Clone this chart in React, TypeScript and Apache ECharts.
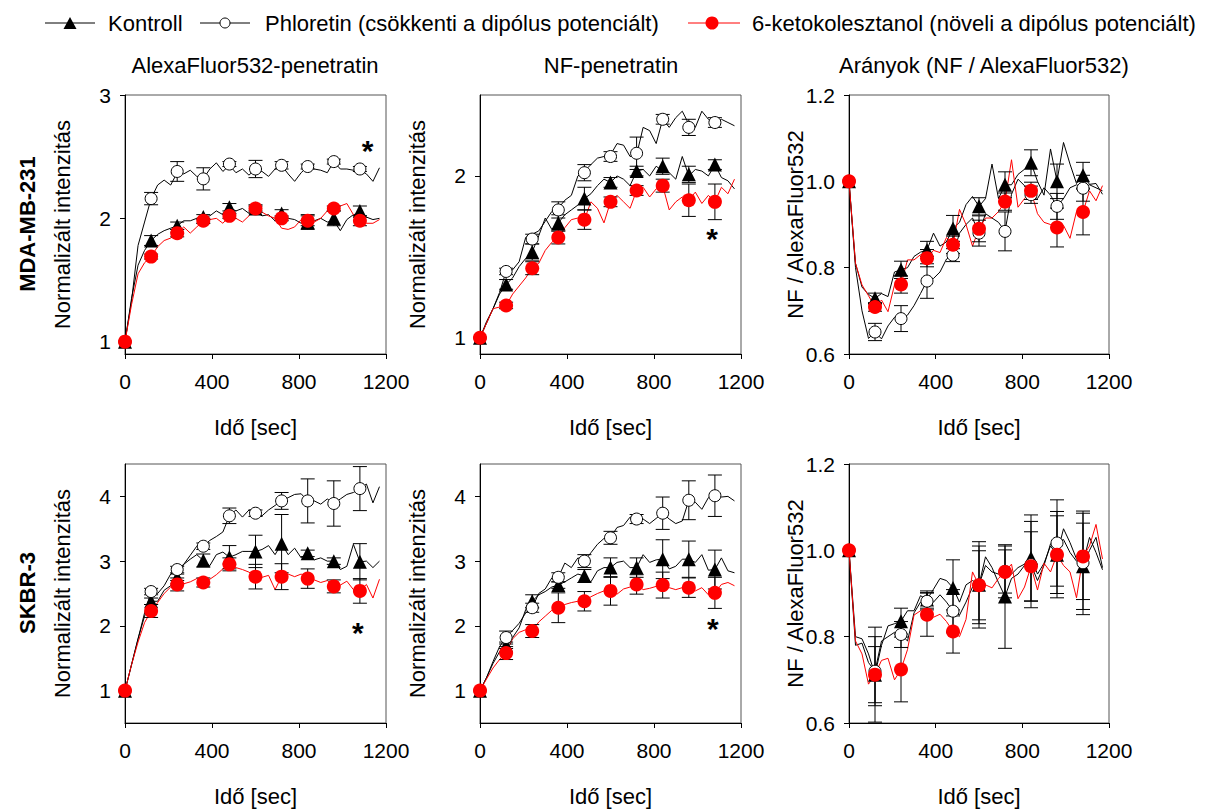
import React, { useEffect, useRef } from "react";
import * as echarts from "echarts";

const FONT = '"Liberation Sans", Arial, Helvetica, sans-serif';

// time grids (s)
const LINE_T = [0, 30, 60, 90, 120, 150, 180, 210, 240, 270, 300, 330, 360, 390, 420, 450, 480, 510, 540, 570, 600, 630, 660, 690, 720, 750, 780, 810, 840, 870, 900, 930, 960, 990, 1020, 1050, 1080, 1110, 1140, 1170];
const MARK_T = [0, 120, 240, 360, 480, 600, 720, 840, 960, 1080];
const X_TICKS = [0, 400, 800, 1200];

// ---------- MDA-MB-231, AlexaFluor532-penetratin ----------
const a1KLine = [1.00, 1.35, 1.62, 1.74, 1.82, 1.87, 1.90, 1.92, 1.94, 1.98, 1.98, 2.00, 2.01, 2.02, 2.06, 2.03, 2.09, 2.06, 2.08, 2.04, 2.06, 2.02, 2.03, 1.98, 2.04, 2.00, 1.99, 1.96, 1.97, 1.98, 2.00, 1.97, 1.98, 1.90, 1.99, 2.03, 2.04, 2.01, 1.99, 2.00];
const a1PLine = [1.00, 1.33, 1.78, 1.97, 2.16, 2.27, 2.31, 2.27, 2.37, 2.36, 2.39, 2.34, 2.32, 2.40, 2.45, 2.38, 2.43, 2.37, 2.40, 2.35, 2.40, 2.38, 2.34, 2.40, 2.43, 2.36, 2.30, 2.37, 2.42, 2.40, 2.39, 2.37, 2.46, 2.40, 2.40, 2.39, 2.39, 2.36, 2.30, 2.41];
const a1RLine = [1.00, 1.30, 1.55, 1.64, 1.69, 1.77, 1.82, 1.84, 1.88, 1.93, 1.88, 1.93, 1.98, 1.99, 2.00, 1.96, 2.02, 2.00, 1.97, 2.02, 2.08, 2.05, 2.02, 2.00, 1.92, 1.91, 1.93, 1.99, 1.98, 1.97, 2.00, 2.06, 2.08, 2.10, 2.12, 2.03, 1.98, 1.96, 1.96, 1.99];
const a1KMark = [1, 1.82, 1.94, 2.01, 2.09, 2.08, 2.04, 1.97, 2.00, 2.06];
const a1KErr = [0, 0.04, 0.03, 0.02, 0.03, 0.02, 0.03, 0.06, 0.06, 0.04];
const a1PMark = [1, 2.16, 2.38, 2.32, 2.44, 2.40, 2.43, 2.42, 2.46, 2.40];
const a1PErr = [0, 0.05, 0.08, 0.09, 0.02, 0.07, 0.03, 0.02, 0.02, 0.02];
const a1RMark = [1, 1.69, 1.88, 1.98, 2.02, 2.08, 2.00, 1.98, 2.08, 1.98];
const a1RErr = [0, 0.02, 0.03, 0.02, 0.02, 0.03, 0.02, 0.04, 0.02, 0.04];
const a1Star = [[1115, 2.6]];
const a1YTicks = [1, 2, 3];

// ---------- MDA-MB-231, NF-penetratin ----------
const n1KLine = [1.00, 1.10, 1.18, 1.27, 1.33, 1.37, 1.44, 1.49, 1.53, 1.63, 1.74, 1.67, 1.71, 1.76, 1.79, 1.82, 1.86, 1.89, 1.94, 1.98, 1.96, 2.00, 1.98, 1.94, 2.03, 2.04, 2.00, 2.06, 2.03, 2.02, 1.98, 2.12, 2.00, 2.04, 2.03, 2.00, 2.07, 1.99, 1.97, 1.92];
const n1PLine = [1.00, 1.09, 1.18, 1.28, 1.41, 1.42, 1.47, 1.62, 1.64, 1.66, 1.72, 1.78, 1.80, 1.85, 1.88, 2.00, 2.03, 2.07, 2.11, 2.12, 2.13, 2.20, 2.19, 2.12, 2.13, 2.30, 2.28, 2.20, 2.35, 2.30, 2.36, 2.40, 2.32, 2.30, 2.40, 2.35, 2.33, 2.35, 2.33, 2.31];
const n1RLine = [1.00, 1.09, 1.18, 1.19, 1.20, 1.27, 1.32, 1.37, 1.43, 1.46, 1.54, 1.59, 1.62, 1.68, 1.73, 1.74, 1.73, 1.84, 1.80, 1.71, 1.84, 1.88, 1.84, 1.80, 1.91, 1.93, 1.87, 1.92, 1.94, 1.79, 1.84, 1.87, 1.85, 1.90, 1.83, 1.88, 1.84, 1.93, 1.89, 1.98];
const n1KMark = [1, 1.33, 1.53, 1.71, 1.86, 1.96, 2.03, 2.06, 2.01, 2.07];
const n1KErr = [0, 0.03, 0.05, 0.05, 0.07, 0.03, 0.03, 0.05, 0.05, 0.03];
const n1PMark = [1, 1.41, 1.61, 1.79, 2.02, 2.12, 2.14, 2.35, 2.30, 2.33];
const n1PErr = [0, 0.02, 0.03, 0.05, 0.05, 0.03, 0.10, 0.03, 0.05, 0.03];
const n1RMark = [1, 1.20, 1.43, 1.62, 1.73, 1.84, 1.91, 1.94, 1.85, 1.84];
const n1RErr = [0, 0.02, 0.04, 0.04, 0.06, 0.03, 0.03, 0.04, 0.10, 0.11];
const n1Star = [[1067, 1.65]];
const n1YTicks = [1, 2];

// ---------- MDA-MB-231, ratio ----------
const r1KLine = [1.000, 0.810, 0.755, 0.738, 0.729, 0.740, 0.733, 0.790, 0.795, 0.800, 0.826, 0.836, 0.841, 0.880, 0.850, 0.860, 0.891, 0.905, 0.946, 0.965, 0.942, 0.960, 1.040, 0.960, 0.992, 0.992, 1.016, 1.028, 1.043, 1.000, 0.968, 1.075, 1.000, 1.090, 1.040, 0.995, 1.014, 0.993, 0.995, 0.970];
const r1PLine = [1.000, 0.800, 0.700, 0.636, 0.651, 0.635, 0.665, 0.685, 0.682, 0.690, 0.712, 0.740, 0.769, 0.775, 0.790, 0.820, 0.829, 0.880, 0.900, 0.915, 0.880, 0.925, 0.915, 0.905, 0.884, 0.970, 1.005, 0.990, 0.969, 0.960, 0.985, 0.968, 0.942, 0.960, 0.985, 0.992, 0.984, 0.992, 0.985, 0.978];
const r1RLine = [1.000, 0.810, 0.760, 0.735, 0.709, 0.725, 0.698, 0.760, 0.761, 0.818, 0.818, 0.830, 0.822, 0.840, 0.835, 0.870, 0.853, 0.935, 0.900, 0.850, 0.890, 0.915, 0.915, 0.930, 0.953, 1.050, 0.940, 0.960, 0.978, 0.925, 0.905, 0.900, 0.893, 0.898, 0.868, 0.930, 0.929, 0.978, 0.955, 0.990];
const r1KMark = [1, 0.729, 0.795, 0.841, 0.891, 0.942, 0.992, 1.043, 1.000, 1.014];
const r1KErr = [0, 0.012, 0.02, 0.02, 0.03, 0.02, 0.03, 0.03, 0.04, 0.03];
const r1PMark = [1, 0.651, 0.682, 0.769, 0.829, 0.880, 0.884, 0.969, 0.942, 0.984];
const r1PErr = [0, 0.02, 0.03, 0.04, 0.015, 0.03, 0.045, 0.02, 0.03, 0.03];
const r1RMark = [1, 0.709, 0.761, 0.822, 0.853, 0.890, 0.953, 0.978, 0.893, 0.929];
const r1RErr = [0, 0.01, 0.02, 0.02, 0.02, 0.03, 0.02, 0.02, 0.045, 0.053];

// ---------- SKBR-3, AlexaFluor532-penetratin ----------
const a2KLine = [1.00, 1.40, 1.80, 2.15, 2.38, 2.38, 2.55, 2.62, 2.75, 2.95, 3.03, 3.10, 3.01, 2.93, 3.10, 3.14, 3.06, 3.10, 3.15, 3.15, 3.15, 3.18, 3.24, 3.10, 3.27, 3.10, 3.20, 3.05, 3.12, 3.02, 3.05, 3.00, 3.00, 2.87, 2.92, 3.26, 2.99, 3.00, 2.90, 3.00];
const a2PLine = [1.00, 1.40, 1.80, 2.20, 2.53, 2.50, 2.62, 2.80, 2.87, 2.95, 3.09, 3.23, 3.23, 3.32, 3.38, 3.45, 3.70, 3.79, 3.68, 3.79, 3.74, 3.70, 3.79, 3.86, 3.93, 3.98, 4.03, 4.04, 3.93, 3.93, 3.88, 3.96, 3.89, 3.96, 4.03, 4.06, 4.12, 4.19, 3.90, 4.15];
const a2RLine = [1.00, 1.40, 1.75, 2.05, 2.23, 2.36, 2.50, 2.60, 2.64, 2.65, 2.68, 2.73, 2.67, 2.72, 2.79, 2.88, 2.95, 2.90, 2.87, 2.83, 2.76, 2.75, 2.78, 2.56, 2.76, 2.80, 2.76, 2.80, 2.73, 2.71, 2.67, 2.70, 2.61, 2.63, 2.69, 2.56, 2.54, 2.64, 2.43, 2.72];
const a2KMark = [1, 2.38, 2.75, 3.01, 3.06, 3.15, 3.27, 3.12, 3.00, 2.99];
const a2KErr = [0, 0.05, 0.05, 0.10, 0.18, 0.25, 0.45, 0.05, 0.05, 0.28];
const a2PMark = [1, 2.53, 2.87, 3.23, 3.70, 3.74, 3.93, 3.93, 3.89, 4.12];
const a2PErr = [0, 0.05, 0.05, 0.05, 0.12, 0.05, 0.13, 0.34, 0.35, 0.34];
const a2RMark = [1, 2.23, 2.64, 2.67, 2.95, 2.76, 2.76, 2.73, 2.61, 2.54];
const a2RErr = [0, 0.10, 0.10, 0.07, 0.10, 0.19, 0.20, 0.15, 0.10, 0.19];
const a2Star = [[1071, 1.99]];
const a2YTicks = [1, 2, 3, 4];

// ---------- SKBR-3, NF-penetratin ----------
const n2KLine = [1.00, 1.20, 1.42, 1.60, 1.70, 1.82, 1.97, 2.25, 2.38, 2.48, 2.53, 2.60, 2.63, 2.68, 2.74, 2.80, 2.77, 2.68, 2.85, 2.90, 2.90, 2.98, 3.00, 2.90, 2.90, 3.10, 2.98, 3.02, 3.03, 2.88, 2.92, 3.03, 3.03, 2.98, 3.10, 2.86, 2.87, 3.05, 2.85, 2.82];
const n2PLine = [1.00, 1.20, 1.45, 1.68, 1.82, 1.93, 2.04, 2.20, 2.28, 2.50, 2.57, 2.74, 2.75, 2.97, 2.90, 3.05, 3.00, 3.13, 3.26, 3.35, 3.36, 3.52, 3.55, 3.68, 3.65, 3.65, 3.58, 3.66, 3.74, 3.65, 3.58, 3.62, 3.94, 3.91, 3.80, 3.98, 4.01, 3.99, 4.00, 3.93];
const n2RLine = [1.00, 1.18, 1.35, 1.48, 1.58, 1.80, 1.90, 1.94, 1.92, 2.06, 2.15, 2.24, 2.28, 2.33, 2.36, 2.38, 2.38, 2.45, 2.50, 2.54, 2.54, 2.49, 2.57, 2.60, 2.64, 2.56, 2.58, 2.61, 2.63, 2.59, 2.56, 2.59, 2.59, 2.54, 2.59, 2.48, 2.51, 2.64, 2.67, 2.62];
const n2KMark = [1, 1.70, 2.38, 2.63, 2.77, 2.90, 2.90, 3.03, 3.03, 2.87];
const n2KErr = [0, 0.05, 0.10, 0.05, 0.10, 0.15, 0.15, 0.30, 0.28, 0.30];
const n2PMark = [1, 1.82, 2.28, 2.75, 3.00, 3.36, 3.65, 3.74, 3.94, 4.01];
const n2PErr = [0, 0.10, 0.07, 0.07, 0.10, 0.10, 0.07, 0.25, 0.30, 0.32];
const n2RMark = [1, 1.58, 1.92, 2.28, 2.38, 2.54, 2.64, 2.63, 2.59, 2.51];
const n2RErr = [0, 0.10, 0.10, 0.23, 0.15, 0.22, 0.15, 0.20, 0.15, 0.24];
const n2Star = [[1071, 2.05]];
const n2YTicks = [1, 2, 3, 4];

// ---------- SKBR-3, ratio ----------
const r2KLine = [1.000, 0.800, 0.795, 0.760, 0.712, 0.780, 0.825, 0.830, 0.836, 0.860, 0.860, 0.895, 0.886, 0.910, 0.935, 0.930, 0.913, 0.880, 0.920, 0.930, 0.920, 0.985, 0.960, 0.925, 0.893, 0.935, 0.945, 0.965, 0.982, 0.945, 0.970, 1.010, 0.990, 1.050, 1.018, 0.980, 0.963, 1.000, 1.030, 0.960];
const r2PLine = [1.000, 0.780, 0.785, 0.740, 0.720, 0.790, 0.800, 0.810, 0.805, 0.790, 0.855, 0.880, 0.882, 0.880, 0.897, 0.880, 0.859, 0.850, 0.880, 0.915, 0.920, 0.965, 0.950, 0.945, 0.951, 0.945, 0.960, 0.968, 0.967, 0.930, 0.965, 1.015, 1.017, 1.025, 0.995, 0.975, 0.971, 1.030, 0.995, 0.955];
const r2RLine = [1.000, 0.790, 0.760, 0.690, 0.712, 0.745, 0.750, 0.700, 0.724, 0.770, 0.850, 0.860, 0.851, 0.845, 0.852, 0.835, 0.812, 0.800, 0.840, 0.950, 0.919, 0.920, 0.913, 0.935, 0.950, 0.968, 0.888, 0.915, 0.963, 0.908, 0.970, 0.950, 0.990, 0.965, 0.950, 0.890, 0.986, 1.010, 1.060, 0.980];
const r2KMark = [1, 0.712, 0.836, 0.886, 0.913, 0.920, 0.893, 0.982, 0.990, 0.963];
const r2KErr = [0, 0.11, 0.03, 0.02, 0.065, 0.10, 0.12, 0.10, 0.10, 0.10];
const r2PMark = [1, 0.720, 0.805, 0.882, 0.859, 0.920, 0.951, 0.967, 1.017, 0.971];
const r2PErr = [0, 0.08, 0.03, 0.02, 0.05, 0.09, 0.05, 0.10, 0.10, 0.12];
const r2RMark = [1, 0.712, 0.724, 0.851, 0.812, 0.919, 0.950, 0.963, 0.990, 0.986];
const r2RErr = [0, 0.065, 0.075, 0.05, 0.05, 0.08, 0.06, 0.08, 0.09, 0.10];

const TITLES = ["AlexaFluor532-penetratin", "NF-penetratin", "Arányok (NF / AlexaFluor532)"];
const ROWS = ["MDA-MB-231", "SKBR-3"];
const LEGEND = ["Kontroll", "Phloretin (csökkenti a dipólus potenciált)", "6-ketokolesztanol (növeli a dipólus potenciált)"];

const PANELS = [
  { K: [a1KLine, a1KMark, a1KErr], P: [a1PLine, a1PMark, a1PErr], R: [a1RLine, a1RMark, a1RErr], star: a1Star, y: { min: 0.9, max: 3, ticks: a1YTicks }, ratio: false },
  { K: [n1KLine, n1KMark, n1KErr], P: [n1PLine, n1PMark, n1PErr], R: [n1RLine, n1RMark, n1RErr], star: n1Star, y: { min: 0.9, max: 2.5, ticks: n1YTicks }, ratio: false },
  { K: [r1KLine, r1KMark, r1KErr], P: [r1PLine, r1PMark, r1PErr], R: [r1RLine, r1RMark, r1RErr], star: [], y: { min: 0.6, max: 1.2 }, ratio: true },
  { K: [a2KLine, a2KMark, a2KErr], P: [a2PLine, a2PMark, a2PErr], R: [a2RLine, a2RMark, a2RErr], star: a2Star, y: { min: 0.5, max: 4.5, ticks: a2YTicks }, ratio: false },
  { K: [n2KLine, n2KMark, n2KErr], P: [n2PLine, n2PMark, n2PErr], R: [n2RLine, n2RMark, n2RErr], star: n2Star, y: { min: 0.5, max: 4.5, ticks: n2YTicks }, ratio: false },
  { K: [r2KLine, r2KMark, r2KErr], P: [r2PLine, r2PMark, r2PErr], R: [r2RLine, r2RMark, r2RErr], star: [], y: { min: 0.6, max: 1.2 }, ratio: true },
];

const COL_LEFT = [125, 480, 849];
const COL_W = [261, 261, 260];
const ROW_TOP = [95, 464];
const GRID_H = 259;

export default function App() {
  const ref = useRef<HTMLDivElement>(null);

  useEffect(() => {
    if (!ref.current) return;
    const chart = echarts.init(ref.current, undefined, { renderer: "svg" });

    const grids: any[] = [];
    const xAxes: any[] = [];
    const yAxes: any[] = [];
    const series: any[] = [];

    PANELS.forEach((p, i) => {
      const col = i % 3;
      const row = Math.floor(i / 3);
      grids.push({
        left: COL_LEFT[col], top: ROW_TOP[row], width: COL_W[col], height: GRID_H,
        show: true, borderColor: "#555", borderWidth: 1, backgroundColor: "transparent",
      });
      const axisCommon = {
        axisLine: { show: true, onZero: false, lineStyle: { color: "#000", width: 1 } },
        axisTick: { show: true, inside: false, length: 5, lineStyle: { color: "#000", width: 1 } },
        splitLine: { show: false },
        nameMoveOverlap: false,
      };
      xAxes.push({
        ...axisCommon,
        gridIndex: i, type: "value", min: 0, max: 1200, interval: 400,
        axisLabel: {
          color: "#000", fontSize: 21, fontFamily: FONT, margin: 17, customValues: X_TICKS,
          formatter: (v: number) => String(v),
        },
        name: "Idő [sec]", nameLocation: "middle", nameGap: 62,
        nameTextStyle: { color: "#000", fontSize: 22, fontFamily: FONT },
      });
      const yCfg: any = {
        ...axisCommon,
        gridIndex: i, type: "value", min: p.y.min, max: p.y.max,
        name: p.ratio ? "NF / AlexaFluor532" : "Normalizált intenzitás",
        nameLocation: "middle", nameRotate: 90, nameGap: p.ratio ? 43 : 52,
        nameTextStyle: { color: "#000", fontSize: 22, fontFamily: FONT },
        axisLabel: {
          color: "#000", fontSize: 21, fontFamily: FONT, margin: 14,
          formatter: (v: number) => (p.ratio ? v.toFixed(1) : String(v)),
        },
      };
      if (p.ratio) {
        yCfg.interval = 0.2;
      } else {
        yCfg.axisLabel.customValues = p.y.ticks;
        yCfg.axisTick = { ...yCfg.axisTick, customValues: p.y.ticks };
      }
      yAxes.push(yCfg);

      const line = (vals: number[], color: string) => ({
        type: "line", xAxisIndex: i, yAxisIndex: i, silent: true, z: 2,
        data: LINE_T.map((t, j) => [t, vals[j]]),
        symbol: "none", lineStyle: { color, width: 1 },
      });
      const err = (marks: number[], errs: number[]) => ({
        type: "custom", xAxisIndex: i, yAxisIndex: i, silent: true, z: 3, clip: false,
        data: MARK_T.map((t, j) => [t, marks[j], errs[j]]),
        encode: { x: 0, y: 1 },
        renderItem: (_params: any, api: any) => {
          const t = api.value(0), v = api.value(1), e = api.value(2);
          if (!e) return { type: "group", children: [] };
          const hi = api.coord([t, v + e]);
          const lo = api.coord([t, v - e]);
          const hw = 7;
          const st = { stroke: "#000", lineWidth: 1 };
          return {
            type: "group",
            children: [
              { type: "line", shape: { x1: hi[0], y1: hi[1], x2: lo[0], y2: lo[1] }, style: st },
              { type: "line", shape: { x1: hi[0] - hw, y1: hi[1], x2: hi[0] + hw, y2: hi[1] }, style: st },
              { type: "line", shape: { x1: lo[0] - hw, y1: lo[1], x2: lo[0] + hw, y2: lo[1] }, style: st },
            ],
          };
        },
      });
      const marks = (vals: number[], symbol: string, size: number, itemStyle: any) => ({
        type: "scatter", xAxisIndex: i, yAxisIndex: i, silent: true, z: 4,
        data: MARK_T.map((t, j) => [t, vals[j]]),
        symbol, symbolSize: size, itemStyle: { opacity: 1, ...itemStyle },
      });

      series.push(line(p.K[0], "#000"));
      series.push(line(p.P[0], "#000"));
      series.push(line(p.R[0], "#ff0000"));
      series.push(err(p.K[1], p.K[2]));
      series.push(err(p.P[1], p.P[2]));
      series.push(err(p.R[1], p.R[2]));
      series.push(marks(p.K[1], "triangle", 14, { color: "#000" }));
      series.push(marks(p.P[1], "circle", 12, { color: "#fff", borderColor: "#000", borderWidth: 1 }));
      series.push(marks(p.R[1], "circle", 14, { color: "#ff0000" }));
      if (p.star.length) {
        series.push({
          type: "custom", xAxisIndex: i, yAxisIndex: i, silent: true, z: 5, clip: false,
          data: p.star, encode: { x: 0, y: 1 },
          renderItem: (_params: any, api: any) => {
            const c = api.coord([api.value(0), api.value(1)]);
            return {
              type: "text", x: c[0], y: c[1] + 6,
              style: { text: "*", fill: "#000", font: `bold 30px ${FONT}`, align: "center", verticalAlign: "middle" },
            };
          },
        });
      }
    });

    const txt = (text: string, x: number, y: number, extra: any = {}) => ({
      type: "text", x, y, silent: true,
      style: { text, fill: "#000", font: `22px ${FONT}`, align: "left", verticalAlign: "middle", ...extra },
    });

    const graphic: any[] = [
      // legend
      { type: "line", shape: { x1: 45, y1: 23, x2: 95, y2: 23 }, style: { stroke: "#000", lineWidth: 1 } },
      { type: "polygon", shape: { points: [[70, 17], [63.5, 29], [76.5, 29]] }, style: { fill: "#000" } },
      txt(LEGEND[0], 108, 23),
      { type: "line", shape: { x1: 200, y1: 23, x2: 250, y2: 23 }, style: { stroke: "#000", lineWidth: 1 } },
      { type: "circle", shape: { cx: 225, cy: 23, r: 5 }, style: { fill: "#fff", stroke: "#000", lineWidth: 1 } },
      txt(LEGEND[1], 265, 23),
      { type: "line", shape: { x1: 688, y1: 23, x2: 740, y2: 23 }, style: { stroke: "#ff0000", lineWidth: 1 } },
      { type: "circle", shape: { cx: 712, cy: 23, r: 6.5 }, style: { fill: "#ff0000" } },
      txt(LEGEND[2], 752, 23),
      // column titles
      txt(TITLES[0], 255, 65, { align: "center" }),
      txt(TITLES[1], 611, 65, { align: "center" }),
      txt(TITLES[2], 984, 65, { align: "center" }),
      // row labels
      { ...txt(ROWS[0], 27, 224, { align: "center", font: `bold 22px ${FONT}` }), rotation: Math.PI / 2 },
      { ...txt(ROWS[1], 27, 593, { align: "center", font: `bold 22px ${FONT}` }), rotation: Math.PI / 2 },
    ];

    chart.setOption({
      animation: false,
      backgroundColor: "#fff",
      textStyle: { fontFamily: FONT },
      grid: grids,
      xAxis: xAxes,
      yAxis: yAxes,
      series,
      graphic,
    });

    return () => chart.dispose();
  }, []);

  return (
    <div
      ref={ref}
      style={{ position: "absolute", left: 0, top: 0, width: 1208, height: 809, background: "#fff" }}
    />
  );
}
